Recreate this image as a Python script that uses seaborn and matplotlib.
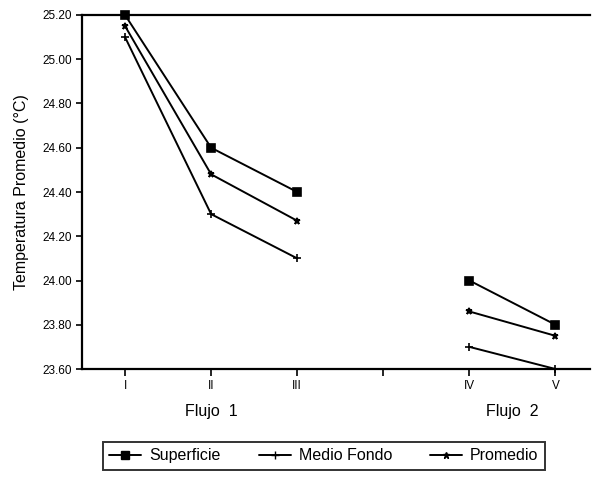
import numpy as np
import matplotlib
matplotlib.use('Agg')
import matplotlib.pyplot as plt
import seaborn as sns
from matplotlib.lines import Line2D

# data
categories = ['I', 'II', 'III', 'IV', 'V']
flujo = ['Flujo 1', 'Flujo 1', 'Flujo 1', 'Flujo 2', 'Flujo 2']
positions = [1, 2, 3, 5, 6]          # gap between the two flows
superficie = [25.20, 24.60, 24.40, 24.00, 23.80]
medio_fondo = [25.10, 24.30, 24.10, 23.70, 23.60]
promedio = [25.15, 24.48, 24.27, 23.86, 23.75]

series = {
    'Superficie': (superficie, 's', 6),
    'Medio Fondo': (medio_fondo, '+', 6),
    'Promedio': (promedio, '*', 5),
}

sns.set_style('white', {'text.color': 'black', 'axes.labelcolor': 'black',
                        'xtick.color': 'black', 'ytick.color': 'black'})
plt.rcParams['font.family'] = ['Liberation Sans', 'DejaVu Sans']

fig = plt.figure(figsize=(5.92, 4.82), dpi=100)
ax = fig.add_axes([0.1385, 0.2344, 0.858, 0.7345])

for name, (vals, mk, ms) in series.items():
    for fl in ['Flujo 1', 'Flujo 2']:
        idx = [i for i, f in enumerate(flujo) if f == fl]
        sns.lineplot(x=[positions[i] for i in idx], y=[vals[i] for i in idx],
                     ax=ax, color='black', lw=1.4, marker=mk, markersize=ms,
                     markeredgecolor='black', markerfacecolor='black',
                     markeredgewidth=1.2, legend=False, clip_on=False)

ax.set_xlim(0.5, 6.4)
ax.set_ylim(23.6, 25.2)
ax.set_yticks(np.arange(23.6, 25.21, 0.2))
ax.set_yticklabels([f'{v:.2f}' for v in np.arange(23.6, 25.21, 0.2)], fontsize=8.5)
ax.set_xticks([1, 2, 3, 4, 5, 6])
ax.set_xticklabels(['I', 'II', 'III', '', 'IV', 'V'], fontsize=8.5)
ax.tick_params(axis='both', direction='out', length=4, width=1.2, color='black',
               labelcolor='black', pad=3, bottom=True, left=True)
ax.tick_params(axis='x', length=5)

for side in ['left', 'bottom', 'top']:
    ax.spines[side].set_color('black')
    ax.spines[side].set_linewidth(1.6)
ax.spines['right'].set_visible(False)

ax.set_ylabel('Temperatura Promedio (°C)', fontsize=11.5, labelpad=10, color='black')
ax.set_xlabel('')

ax.text(2, -0.12, 'Flujo  1', transform=ax.get_xaxis_transform(),
        ha='center', va='center', fontsize=11.5, color='black')
ax.text(5.5, -0.12, 'Flujo  2', transform=ax.get_xaxis_transform(),
        ha='center', va='center', fontsize=11.5, color='black')

handles = [Line2D([0], [0], color='black', lw=1.4, marker=mk, markersize=ms,
                  markerfacecolor='black', markeredgecolor='black')
           for (vals, mk, ms) in series.values()]
leg = fig.legend(handles, list(series.keys()), loc='center', ncol=3,
                 bbox_to_anchor=(0.547, 0.054), frameon=True, fontsize=11.5,
                 fancybox=False, edgecolor='black', handlelength=2,
                 columnspacing=2.4, borderpad=0.4, handletextpad=0.5,
                 labelcolor='black')
leg.get_frame().set_linewidth(1.4)

fig.savefig('out.png', dpi=100)
